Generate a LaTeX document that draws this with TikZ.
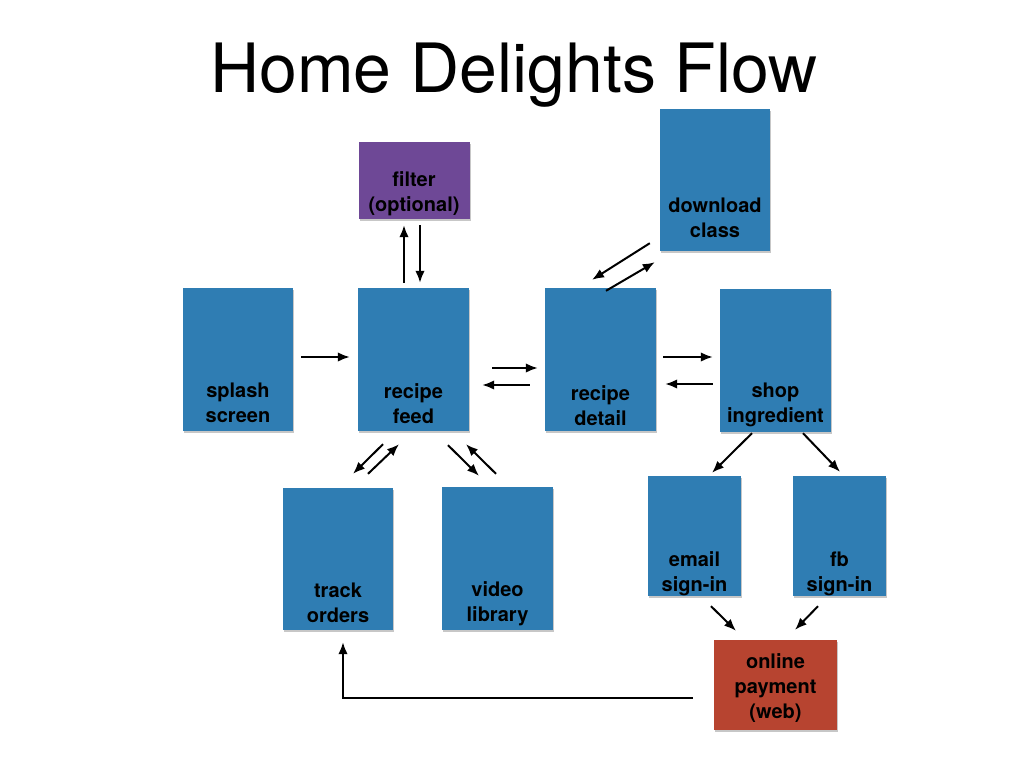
\documentclass[tikz,border=0pt]{standalone}
\usepackage{fontspec}
\setmainfont{TeX Gyre Heros}
\usetikzlibrary{arrows.meta,shadows}
\definecolor{boxblue}{RGB}{47,125,179}
\definecolor{boxpurple}{RGB}{110,72,150}
\definecolor{boxred}{RGB}{183,68,48}
\begin{document}
\begin{tikzpicture}[x=1pt,y=-1pt,
  box/.style={rectangle,draw=none,inner sep=0pt,
    drop shadow={shadow xshift=1.2pt,shadow yshift=-1.5pt,opacity=0.22,fill=black}},
  bluebox/.style={box,fill=boxblue},
  lbl/.style={align=center,inner sep=0pt,font=\fontsize{20}{25}\selectfont\bfseries,text=black},
  arr/.style={-{Latex[length=12pt,width=9.5pt]},line width=2pt,black}]
\path[use as bounding box] (0,0) rectangle (1028,772);
\node[anchor=base,inner sep=0pt,font=\fontsize{68}{72}\selectfont] (title) at (514,92) {Home Delights Flow};
% boxes
\node[bluebox,minimum width=110,minimum height=143] (splash) at (238,359.5) {};
\node[bluebox,minimum width=111,minimum height=143] (feed) at (413.5,359.5) {};
\node[bluebox,minimum width=111,minimum height=143] (detail) at (600.5,359.5) {};
\node[bluebox,minimum width=111,minimum height=143] (shop) at (775.5,360.5) {};
\node[bluebox,minimum width=110,minimum height=142] (download) at (715,180) {};
\node[box,fill=boxpurple,minimum width=111,minimum height=77] (filter) at (414,180.5) {};
\node[bluebox,minimum width=110,minimum height=142] (track) at (338,559) {};
\node[bluebox,minimum width=111,minimum height=143] (video) at (497.5,558.5) {};
\node[bluebox,minimum width=93,minimum height=120] (email) at (694.5,536) {};
\node[bluebox,minimum width=93,minimum height=120] (fb) at (839.5,536) {};
\node[box,fill=boxred,minimum width=123,minimum height=90] (payment) at (775.5,685) {};
% labels
\node[lbl] (splasht) at ([yshift=28pt]splash.south) {splash\\screen};
\node[lbl] (feedt) at ([yshift=28pt]feed.south) {recipe\\feed};
\node[lbl] (detailt) at ([yshift=25.5pt]detail.south) {recipe\\detail};
\node[lbl] (shopt) at ([yshift=27pt]shop.south) {shop\\ingredient};
\node[lbl] (downloadt) at ([yshift=33.5pt]download.south) {download\\class};
\node[lbl] (filtert) at ([yshift=25pt]filter.south) {filter\\(optional)};
\node[lbl] (trackt) at ([yshift=27.5pt]track.south) {track\\orders};
\node[lbl] (videot) at ([yshift=26pt]video.south) {video\\library};
\node[lbl] (emailt) at ([yshift=22pt]email.south) {email\\sign-in};
\node[lbl] (fbt) at ([yshift=22pt]fb.south) {fb\\sign-in};
\node[lbl] (paymentt) at ([yshift=-3pt]payment.center) {online\\payment\\(web)};
% arrows
\draw[arr] ([shift={(8,-2.5)}]splash.east) -- ([shift={(-8,-2.5)}]feed.west);
\draw[arr] ([shift={(23,8.5)}]feed.east) -- ([shift={(-7,8.5)}]detail.west);
\draw[arr] ([shift={(-15,25.5)}]detail.west) -- ([shift={(13,25.5)}]feed.east);
\draw[arr] ([shift={(7,-2.5)}]detail.east) -- ([shift={(-7,-3.5)}]shop.west);
\draw[arr] ([shift={(-7,23.5)}]shop.west) -- ([shift={(9,24.5)}]detail.east);
\draw[arr] ([shift={(-9.5,-5)}]feed.north) -- ([shift={(-10,6)}]filter.south);
\draw[arr] ([shift={(6,6)}]filter.south) -- ([shift={(6.5,-5)}]feed.north);
\draw[arr] ([shift={(-10,-8)}]download.south west) -- ([shift={(-8.5,-8)}]detail.north);
\draw[arr] ([shift={(5.5,3)}]detail.north) -- ([shift={(-5,11)}]download.south west);
\draw[arr] ([shift={(-30.5,13)}]feed.south) -- ([shift={(15,-14)}]track.north);
\draw[arr] ([shift={(30,-14)}]track.north) -- ([shift={(-14.5,13)}]feed.south);
\draw[arr] ([shift={(34.5,14)}]feed.south) -- ([shift={(-18.5,-11)}]video.north);
\draw[arr] ([shift={(-1.5,-13)}]video.north) -- ([shift={(52.5,13)}]feed.south);
\draw[arr] ([shift={(-23.5,1)}]shop.south) -- ([shift={(17.5,-3)}]email.north);
\draw[arr] ([shift={(27.5,1)}]shop.south) -- ([shift={(0.5,-4)}]fb.north);
\draw[arr] ([shift={(16.5,10)}]email.south) -- ([shift={(-39.5,-9)}]payment.north);
\draw[arr] ([shift={(-21.5,10)}]fb.south) -- ([shift={(19.5,-10)}]payment.north);
\draw[arr] ([shift={(-21,13)}]payment.west) -| ([shift={(5,12)}]track.south);
\end{tikzpicture}
\end{document}
